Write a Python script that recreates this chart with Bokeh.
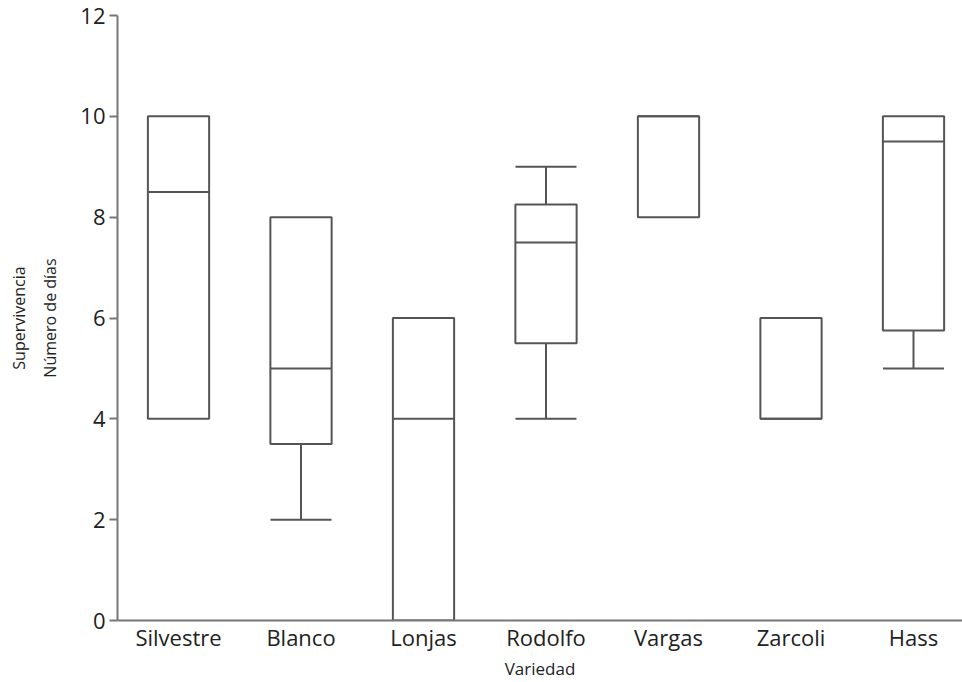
import numpy as np
from bokeh.plotting import figure
from bokeh.models import (Range1d, FixedTicker, Whisker, TeeHead, ColumnDataSource,
                          LinearAxis)
from bokeh.embed import file_html
from bokeh.resources import INLINE

categories = ["Silvestre", "Blanco", "Lonjas", "Rodolfo", "Vargas", "Zarcoli", "Hass"]
q1 = [4, 3.5, 0, 5.5, 8, 4, 5.75]
median = [8.5, 5, 4, 7.5, 10, 4, 9.5]
q3 = [10, 8, 6, 8.25, 10, 6, 10]
lower = [4, 2, 0, 4, 8, 4, 5]
upper = [10, 8, 6, 9, 10, 6, 10]
y_ticks = [0, 2, 4, 6, 8, 10, 12]

BOX_W = 0.5
LINE = "#555555"
AXIS = "#777777"
FONT = "Open Sans"
TXT = "#222222"

x = np.arange(len(categories))

p = figure(width=962, height=682, output_backend="svg", toolbar_location=None,
           x_range=Range1d(-0.498, 6.4), y_range=Range1d(0, 12),
           min_border_left=117, min_border_right=0, min_border_top=15, min_border_bottom=61)
p.outline_line_color = None
p.grid.visible = False
p.background_fill_color = "white"

# boxes
p.vbar(x=x, width=BOX_W, bottom=q1, top=q3, fill_color="white",
       line_color=LINE, line_width=2)
# medians
p.segment(x0=x - BOX_W / 2, x1=x + BOX_W / 2, y0=median, y1=median,
          line_color=LINE, line_width=2)

# whiskers (only where they extend beyond the box)
lo_idx = [i for i in range(len(x)) if lower[i] < q1[i]]
hi_idx = [i for i in range(len(x)) if upper[i] > q3[i]]
lo_src = ColumnDataSource(dict(base=[int(x[i]) for i in lo_idx], lower=[lower[i] for i in lo_idx],
                               upper=[q1[i] for i in lo_idx]))
hi_src = ColumnDataSource(dict(base=[int(x[i]) for i in hi_idx], lower=[q3[i] for i in hi_idx],
                               upper=[upper[i] for i in hi_idx]))
p.add_layout(Whisker(source=lo_src, base="base", lower="lower", upper="upper", dimension="height",
                     line_color=LINE, line_width=2,
                     lower_head=TeeHead(size=61, line_color=LINE, line_width=2), upper_head=None))
p.add_layout(Whisker(source=hi_src, base="base", lower="lower", upper="upper", dimension="height",
                     line_color=LINE, line_width=2,
                     upper_head=TeeHead(size=61, line_color=LINE, line_width=2), lower_head=None))

# x axis
xa = p.xaxis[0]
xa.ticker = FixedTicker(ticks=[int(i) for i in x])
xa.major_label_overrides = {int(i): c for i, c in zip(x, categories)}
xa.major_tick_out = 0
xa.major_tick_in = 0
xa.major_tick_line_color = None
xa.minor_tick_line_color = None
xa.axis_line_color = AXIS
xa.axis_line_width = 2
xa.major_label_text_font = FONT
xa.major_label_text_font_size = "22px"
xa.major_label_text_color = TXT
xa.major_label_standoff = 1
xa.axis_label = "Variedad"
xa.axis_label_text_font = FONT
xa.axis_label_text_font_size = "17px"
xa.axis_label_text_font_style = "normal"
xa.axis_label_text_color = TXT
xa.axis_label_standoff = 2

# y axis
ya = p.yaxis[0]
ya.ticker = FixedTicker(ticks=y_ticks)
ya.major_tick_out = 8
ya.major_tick_in = 0
ya.major_tick_line_color = AXIS
ya.major_tick_line_width = 2
ya.minor_tick_line_color = None
ya.axis_line_color = AXIS
ya.axis_line_width = 2
ya.major_label_text_font = FONT
ya.major_label_text_font_size = "22px"
ya.major_label_text_color = TXT
ya.major_label_standoff = 4
ya.axis_label = "Número de días"
ya.axis_label_text_font = FONT
ya.axis_label_text_font_size = "16px"
ya.axis_label_text_font_style = "normal"
ya.axis_label_text_color = TXT
ya.axis_label_standoff = 16

# outer title line as an extra, bare axis
outer = LinearAxis(axis_label="Supervivencia", ticker=FixedTicker(ticks=[]),
                   axis_line_color=None, major_tick_line_color=None, minor_tick_line_color=None,
                   major_tick_out=0, major_tick_in=0, minor_tick_out=0, minor_tick_in=0,
                   major_label_text_font_size="0px", major_label_standoff=0,
                   axis_label_text_font=FONT, axis_label_text_font_size="16px",
                   axis_label_text_font_style="normal", axis_label_text_color=TXT,
                   axis_label_standoff=7)
p.add_layout(outer, "left")

open("out.html", "w").write(file_html(p, INLINE))
